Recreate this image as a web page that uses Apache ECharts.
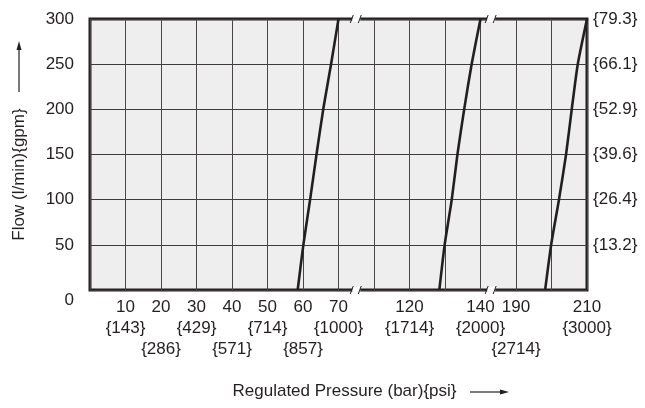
<!DOCTYPE html>
<html>
<head>
<meta charset="UTF-8">
<script src="https://cdn.jsdelivr.net/npm/echarts@6/dist/echarts.min.js"></script>
<style>
html, body { margin: 0; padding: 0; background: #fff; }
#main { width: 645px; height: 408px; }
</style>
</head>
<body>
<div id="main"></div>
<script>
// flow (l/min), same steps for every curve
var flow = [0, 50, 100, 150, 200, 250, 300];
// regulated pressure (bar) read at each flow step
var curve70 = [58.5, 60.1, 62.0, 63.8, 65.7, 67.9, 70];
var curve140 = [128.4, 129.9, 131.9, 133.5, 135.4, 137.5, 140];
var curve210 = [198.2, 199.9, 202.1, 204.1, 205.7, 207.4, 210];

// bottom axis
var barTicks = [10, 20, 30, 40, 50, 60, 70, 120, 140, 190, 210];
var psiTicks = ['{143}', '{286}', '{429}', '{571}', '{714}', '{857}', '{1000}', '{1714}', '{2000}', '{2714}', '{3000}'];
var gridTicks = [0, 10, 20, 30, 40, 50, 60, 70, 110, 120, 130, 140, 190, 200, 210];
var axisBreaks = [[75, 105], [143, 183]];
// right axis, gpm for each 50 l/min
var gpmTicks = ['', '{13.2}', '{26.4}', '{39.6}', '{52.9}', '{66.1}', '{79.3}'];

var ink = '#231f20';
var font = 'Liberation Sans, Arial, sans-serif';
var lowerRow = [20, 40, 60, 190];

function pts(p) {
    return flow.map(function (f, i) { return [p[i], f]; });
}

function curve(p) {
    return {
        type: 'line',
        data: pts(p),
        symbol: 'none',
        smooth: 0.2,
        lineStyle: { color: ink, width: 2.6 },
        z: 5
    };
}

var chart = echarts.init(document.getElementById('main'));
chart.setOption({
    animation: false,
    textStyle: { fontFamily: font },
    grid: {
        left: 90, right: 58, top: 19, bottom: 118,
        show: true,
        backgroundColor: '#eeeeee',
        borderColor: ink,
        borderWidth: 3
    },
    xAxis: {
        type: 'value',
        min: 0,
        max: 210,
        breaks: axisBreaks.map(function (b) {
            return { start: b[0], end: b[1], gap: 0 };
        }),
        breakArea: { show: false },
        axisLine: { show: false },
        axisTick: { show: false, customValues: gridTicks },
        splitLine: { show: true, lineStyle: { color: '#4a4646', width: 1 } },
        axisLabel: {
            // 0 carries an empty label so the first real label is not dropped
            customValues: [0].concat(barTicks),
            showMinLabel: true,
            hideOverlap: false,
            margin: 7,
            color: ink,
            fontSize: 17,
            lineHeight: 21,
            formatter: function (v) {
                var i = barTicks.indexOf(v);
                if (i < 0) return '';
                return v + '\n' + (lowerRow.indexOf(v) >= 0 ? '\n' : '') + psiTicks[i];
            }
        },
        name: 'Regulated Pressure (bar){psi}',
        nameLocation: 'middle',
        nameGap: 93,
        nameTextStyle: { color: ink, fontSize: 17, padding: [0, 0, 0, 12] }
    },
    yAxis: [{
        type: 'value',
        min: 0,
        max: 300,
        interval: 50,
        axisLine: { show: false },
        axisTick: { show: false },
        splitLine: { show: true, lineStyle: { color: '#3e3a39', width: 1 } },
        axisLabel: {
            margin: 16,
            color: ink,
            fontSize: 17,
            formatter: function (v) { return v === 0 ? '{zero|0}' : String(v); },
            rich: { zero: { fontSize: 17, color: ink, padding: [20, 0, 0, 0] } }
        },
        name: 'Flow (l/min){gpm}',
        nameLocation: 'middle',
        nameGap: 62,
        nameTextStyle: { color: ink, fontSize: 17, padding: [0, 40, 0, 0] }
    }, {
        type: 'value',
        position: 'right',
        min: 0,
        max: 300,
        interval: 50,
        axisLine: { show: false },
        axisTick: { show: false },
        splitLine: { show: false },
        axisLabel: {
            margin: 6,
            color: ink,
            fontSize: 17,
            formatter: function (v) { return gpmTicks[v / 50]; }
        }
    }],
    series: [curve(curve70), curve(curve140), curve(curve210)]
});

// break marks on the top and bottom frame, arrows next to axis titles
var marks = [];
axisBreaks.forEach(function (b) {
    [0, 300].forEach(function (f) {
        var p = chart.convertToPixel({ xAxisIndex: 0, yAxisIndex: 0 }, [b[0], f]);
        var x = p[0], y = p[1];
        marks.push({ type: 'rect', shape: { x: x - 4, y: y - 3, width: 8, height: 6 }, style: { fill: '#fff' }, z: 100 });
        marks.push({ type: 'line', shape: { x1: x - 6, y1: y + 4, x2: x - 3, y2: y - 4 }, style: { stroke: ink, lineWidth: 1 }, z: 101 });
        marks.push({ type: 'line', shape: { x1: x + 2, y1: y + 4, x2: x + 5, y2: y - 4 }, style: { stroke: ink, lineWidth: 1 }, z: 101 });
    });
});
marks.push({ type: 'line', shape: { x1: 19, y1: 92, x2: 19, y2: 48 }, style: { stroke: ink, lineWidth: 1.2 } });
marks.push({ type: 'polygon', shape: { points: [[19, 41], [16.5, 50], [21.5, 50]] }, style: { fill: ink } });
marks.push({ type: 'line', shape: { x1: 470, y1: 392, x2: 501, y2: 392 }, style: { stroke: ink, lineWidth: 1.2 } });
marks.push({ type: 'polygon', shape: { points: [[509, 392], [500, 389.5], [500, 394.5]] }, style: { fill: ink } });
chart.setOption({ graphic: marks });
</script>
</body>
</html>
